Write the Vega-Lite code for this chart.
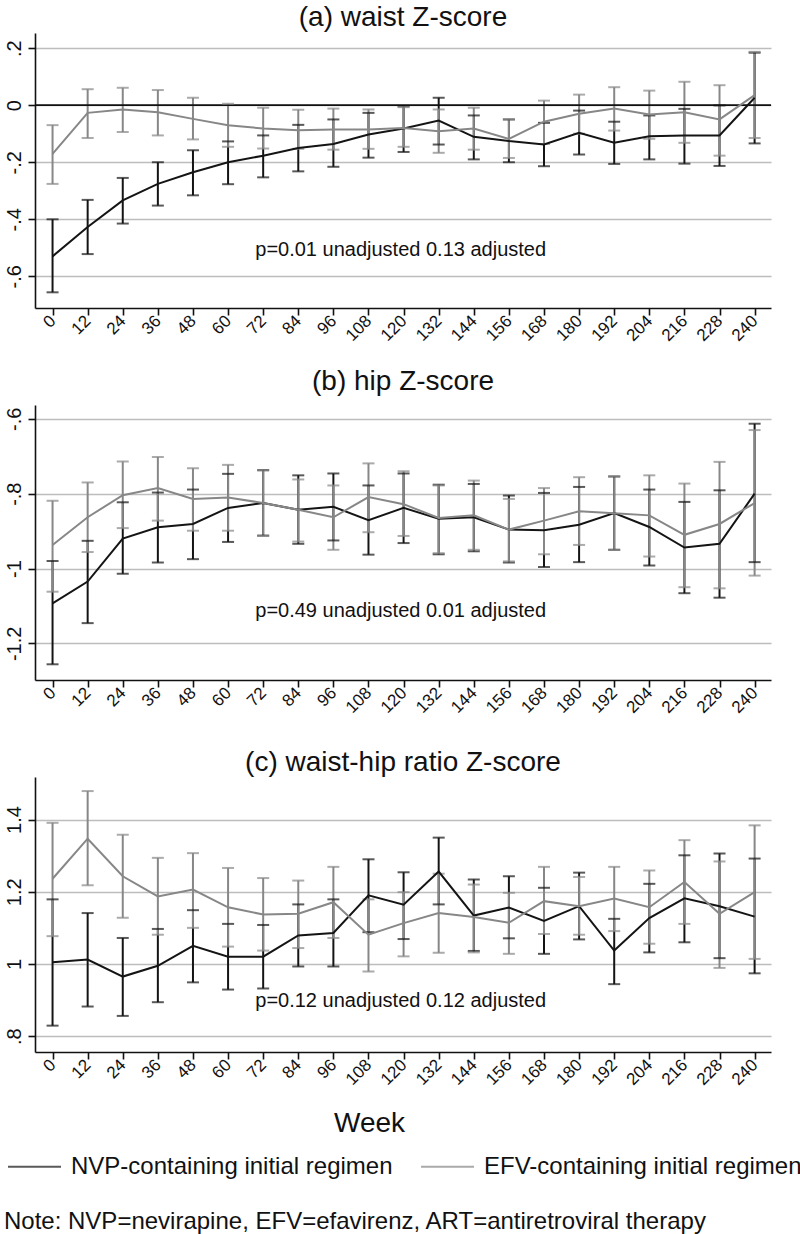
{
  "$schema": "https://vega.github.io/schema/vega-lite/v6.json",
  "padding": {"left": 3, "top": 4, "right": 0, "bottom": 0},
  "background": "white",
  "config": {
    "font": "Liberation Sans",
    "view": {"stroke": null},
    "title": {"fontSize": 28, "fontWeight": "normal", "color": "#111111", "anchor": "middle", "baseline": "alphabetic"},
    "axis": {"labelColor": "#111111", "domainColor": "#111111", "tickColor": "#111111", "domainWidth": 1.6, "tickWidth": 1.6, "labelFont": "Liberation Sans", "labelOverlap": false}
  },
  "title": {"text": "Note: NVP=nevirapine, EFV=efavirenz, ART=antiretroviral therapy", "orient": "bottom", "anchor": "start", "fontSize": 24, "offset": 50, "baseline": "alphabetic"},
  "datasets": {
    "waist": [
      {"week": 0, "group": "NVP", "est": -0.53, "lo": -0.656, "hi": -0.4},
      {"week": 12, "group": "NVP", "est": -0.427, "lo": -0.522, "hi": -0.332},
      {"week": 24, "group": "NVP", "est": -0.334, "lo": -0.415, "hi": -0.255},
      {"week": 36, "group": "NVP", "est": -0.276, "lo": -0.352, "hi": -0.2},
      {"week": 48, "group": "NVP", "est": -0.235, "lo": -0.316, "hi": -0.158},
      {"week": 60, "group": "NVP", "est": -0.2, "lo": -0.277, "hi": -0.127},
      {"week": 72, "group": "NVP", "est": -0.177, "lo": -0.253, "hi": -0.106},
      {"week": 84, "group": "NVP", "est": -0.15, "lo": -0.232, "hi": -0.069},
      {"week": 96, "group": "NVP", "est": -0.136, "lo": -0.216, "hi": -0.05},
      {"week": 108, "group": "NVP", "est": -0.103, "lo": -0.184, "hi": -0.027},
      {"week": 120, "group": "NVP", "est": -0.082, "lo": -0.164, "hi": -0.004},
      {"week": 132, "group": "NVP", "est": -0.054, "lo": -0.138, "hi": 0.026},
      {"week": 144, "group": "NVP", "est": -0.111, "lo": -0.19, "hi": -0.036},
      {"week": 156, "group": "NVP", "est": -0.126, "lo": -0.2, "hi": -0.05},
      {"week": 168, "group": "NVP", "est": -0.138, "lo": -0.214, "hi": -0.062},
      {"week": 180, "group": "NVP", "est": -0.097, "lo": -0.173, "hi": -0.019},
      {"week": 192, "group": "NVP", "est": -0.132, "lo": -0.206, "hi": -0.058},
      {"week": 204, "group": "NVP", "est": -0.109, "lo": -0.19, "hi": -0.036},
      {"week": 216, "group": "NVP", "est": -0.106, "lo": -0.205, "hi": -0.013},
      {"week": 228, "group": "NVP", "est": -0.106, "lo": -0.213, "hi": -0.001},
      {"week": 240, "group": "NVP", "est": 0.026, "lo": -0.134, "hi": 0.184},
      {"week": 0, "group": "EFV", "est": -0.171, "lo": -0.276, "hi": -0.07},
      {"week": 12, "group": "EFV", "est": -0.027, "lo": -0.115, "hi": 0.056},
      {"week": 24, "group": "EFV", "est": -0.015, "lo": -0.094, "hi": 0.061},
      {"week": 36, "group": "EFV", "est": -0.025, "lo": -0.106, "hi": 0.053},
      {"week": 48, "group": "EFV", "est": -0.048, "lo": -0.12, "hi": 0.026},
      {"week": 60, "group": "EFV", "est": -0.07, "lo": -0.146, "hi": 0.005},
      {"week": 72, "group": "EFV", "est": -0.082, "lo": -0.152, "hi": -0.009},
      {"week": 84, "group": "EFV", "est": -0.088, "lo": -0.153, "hi": -0.016},
      {"week": 96, "group": "EFV", "est": -0.085, "lo": -0.156, "hi": -0.012},
      {"week": 108, "group": "EFV", "est": -0.085, "lo": -0.153, "hi": -0.015},
      {"week": 120, "group": "EFV", "est": -0.08, "lo": -0.146, "hi": -0.007},
      {"week": 132, "group": "EFV", "est": -0.091, "lo": -0.167, "hi": -0.015},
      {"week": 144, "group": "EFV", "est": -0.082, "lo": -0.156, "hi": -0.009},
      {"week": 156, "group": "EFV", "est": -0.118, "lo": -0.185, "hi": -0.05},
      {"week": 168, "group": "EFV", "est": -0.058, "lo": -0.136, "hi": 0.016},
      {"week": 180, "group": "EFV", "est": -0.03, "lo": -0.1, "hi": 0.037},
      {"week": 192, "group": "EFV", "est": -0.012, "lo": -0.089, "hi": 0.063},
      {"week": 204, "group": "EFV", "est": -0.033, "lo": -0.118, "hi": 0.051},
      {"week": 216, "group": "EFV", "est": -0.025, "lo": -0.132, "hi": 0.082},
      {"week": 228, "group": "EFV", "est": -0.05, "lo": -0.177, "hi": 0.07},
      {"week": 240, "group": "EFV", "est": 0.035, "lo": -0.115, "hi": 0.187}
    ],
    "hip": [
      {"week": 0, "group": "NVP", "est": -1.093, "lo": -1.256, "hi": -0.98},
      {"week": 12, "group": "NVP", "est": -1.035, "lo": -1.146, "hi": -0.926},
      {"week": 24, "group": "NVP", "est": -0.92, "lo": -1.014, "hi": -0.823},
      {"week": 36, "group": "NVP", "est": -0.89, "lo": -0.984, "hi": -0.797},
      {"week": 48, "group": "NVP", "est": -0.881, "lo": -0.975, "hi": -0.789},
      {"week": 60, "group": "NVP", "est": -0.838, "lo": -0.929, "hi": -0.747},
      {"week": 72, "group": "NVP", "est": -0.825, "lo": -0.912, "hi": -0.737},
      {"week": 84, "group": "NVP", "est": -0.843, "lo": -0.934, "hi": -0.751},
      {"week": 96, "group": "NVP", "est": -0.835, "lo": -0.925, "hi": -0.746},
      {"week": 108, "group": "NVP", "est": -0.871, "lo": -0.963, "hi": -0.778},
      {"week": 120, "group": "NVP", "est": -0.838, "lo": -0.932, "hi": -0.746},
      {"week": 132, "group": "NVP", "est": -0.867, "lo": -0.962, "hi": -0.776},
      {"week": 144, "group": "NVP", "est": -0.863, "lo": -0.954, "hi": -0.774},
      {"week": 156, "group": "NVP", "est": -0.896, "lo": -0.984, "hi": -0.805},
      {"week": 168, "group": "NVP", "est": -0.898, "lo": -0.996, "hi": -0.798},
      {"week": 180, "group": "NVP", "est": -0.883, "lo": -0.983, "hi": -0.782},
      {"week": 192, "group": "NVP", "est": -0.852, "lo": -0.95, "hi": -0.754},
      {"week": 204, "group": "NVP", "est": -0.889, "lo": -0.992, "hi": -0.789},
      {"week": 216, "group": "NVP", "est": -0.944, "lo": -1.066, "hi": -0.822},
      {"week": 228, "group": "NVP", "est": -0.934, "lo": -1.078, "hi": -0.791},
      {"week": 240, "group": "NVP", "est": -0.8, "lo": -0.983, "hi": -0.613},
      {"week": 0, "group": "EFV", "est": -0.937, "lo": -1.062, "hi": -0.819},
      {"week": 12, "group": "EFV", "est": -0.863, "lo": -0.956, "hi": -0.77},
      {"week": 24, "group": "EFV", "est": -0.804, "lo": -0.892, "hi": -0.714},
      {"week": 36, "group": "EFV", "est": -0.785, "lo": -0.872, "hi": -0.702},
      {"week": 48, "group": "EFV", "est": -0.814, "lo": -0.899, "hi": -0.732},
      {"week": 60, "group": "EFV", "est": -0.81, "lo": -0.899, "hi": -0.723},
      {"week": 72, "group": "EFV", "est": -0.825, "lo": -0.913, "hi": -0.738},
      {"week": 84, "group": "EFV", "est": -0.843, "lo": -0.928, "hi": -0.762},
      {"week": 96, "group": "EFV", "est": -0.863, "lo": -0.95, "hi": -0.778},
      {"week": 108, "group": "EFV", "est": -0.809, "lo": -0.903, "hi": -0.719},
      {"week": 120, "group": "EFV", "est": -0.828, "lo": -0.913, "hi": -0.74},
      {"week": 132, "group": "EFV", "est": -0.865, "lo": -0.959, "hi": -0.778},
      {"week": 144, "group": "EFV", "est": -0.858, "lo": -0.95, "hi": -0.765},
      {"week": 156, "group": "EFV", "est": -0.896, "lo": -0.981, "hi": -0.814},
      {"week": 168, "group": "EFV", "est": -0.872, "lo": -0.962, "hi": -0.785},
      {"week": 180, "group": "EFV", "est": -0.847, "lo": -0.937, "hi": -0.756},
      {"week": 192, "group": "EFV", "est": -0.852, "lo": -0.95, "hi": -0.754},
      {"week": 204, "group": "EFV", "est": -0.858, "lo": -0.968, "hi": -0.751},
      {"week": 216, "group": "EFV", "est": -0.91, "lo": -1.05, "hi": -0.773},
      {"week": 228, "group": "EFV", "est": -0.881, "lo": -1.053, "hi": -0.715},
      {"week": 240, "group": "EFV", "est": -0.825, "lo": -1.019, "hi": -0.63}
    ],
    "whr": [
      {"week": 0, "group": "NVP", "est": 1.005, "lo": 0.829, "hi": 1.179},
      {"week": 12, "group": "NVP", "est": 1.012, "lo": 0.882, "hi": 1.141},
      {"week": 24, "group": "NVP", "est": 0.965, "lo": 0.856, "hi": 1.072},
      {"week": 36, "group": "NVP", "est": 0.995, "lo": 0.894, "hi": 1.097},
      {"week": 48, "group": "NVP", "est": 1.05, "lo": 0.949, "hi": 1.149},
      {"week": 60, "group": "NVP", "est": 1.02, "lo": 0.929, "hi": 1.111},
      {"week": 72, "group": "NVP", "est": 1.02, "lo": 0.932, "hi": 1.108},
      {"week": 84, "group": "NVP", "est": 1.079, "lo": 0.993, "hi": 1.165},
      {"week": 96, "group": "NVP", "est": 1.086, "lo": 0.993, "hi": 1.179},
      {"week": 108, "group": "NVP", "est": 1.19, "lo": 1.088, "hi": 1.29},
      {"week": 120, "group": "NVP", "est": 1.164, "lo": 1.069, "hi": 1.254},
      {"week": 132, "group": "NVP", "est": 1.256, "lo": 1.165, "hi": 1.35},
      {"week": 144, "group": "NVP", "est": 1.134, "lo": 1.036, "hi": 1.234},
      {"week": 156, "group": "NVP", "est": 1.156, "lo": 1.071, "hi": 1.243},
      {"week": 168, "group": "NVP", "est": 1.119, "lo": 1.028, "hi": 1.211},
      {"week": 180, "group": "NVP", "est": 1.16, "lo": 1.068, "hi": 1.253},
      {"week": 192, "group": "NVP", "est": 1.037, "lo": 0.944, "hi": 1.125},
      {"week": 204, "group": "NVP", "est": 1.127, "lo": 1.032, "hi": 1.222},
      {"week": 216, "group": "NVP", "est": 1.182, "lo": 1.06, "hi": 1.301},
      {"week": 228, "group": "NVP", "est": 1.16, "lo": 1.016, "hi": 1.306},
      {"week": 240, "group": "NVP", "est": 1.131, "lo": 0.974, "hi": 1.292},
      {"week": 0, "group": "EFV", "est": 1.236, "lo": 1.077, "hi": 1.391},
      {"week": 12, "group": "EFV", "est": 1.347, "lo": 1.218, "hi": 1.479},
      {"week": 24, "group": "EFV", "est": 1.243, "lo": 1.128, "hi": 1.358},
      {"week": 36, "group": "EFV", "est": 1.187, "lo": 1.081, "hi": 1.294},
      {"week": 48, "group": "EFV", "est": 1.206, "lo": 1.1, "hi": 1.307},
      {"week": 60, "group": "EFV", "est": 1.157, "lo": 1.048, "hi": 1.266},
      {"week": 72, "group": "EFV", "est": 1.137, "lo": 1.037, "hi": 1.238},
      {"week": 84, "group": "EFV", "est": 1.139, "lo": 1.044, "hi": 1.231},
      {"week": 96, "group": "EFV", "est": 1.171, "lo": 1.072, "hi": 1.269},
      {"week": 108, "group": "EFV", "est": 1.081, "lo": 0.979, "hi": 1.179},
      {"week": 120, "group": "EFV", "est": 1.113, "lo": 1.021, "hi": 1.199},
      {"week": 132, "group": "EFV", "est": 1.141, "lo": 1.031, "hi": 1.25},
      {"week": 144, "group": "EFV", "est": 1.13, "lo": 1.032, "hi": 1.22},
      {"week": 156, "group": "EFV", "est": 1.114, "lo": 1.028, "hi": 1.197},
      {"week": 168, "group": "EFV", "est": 1.174, "lo": 1.083, "hi": 1.269},
      {"week": 180, "group": "EFV", "est": 1.16, "lo": 1.081, "hi": 1.241},
      {"week": 192, "group": "EFV", "est": 1.181, "lo": 1.091, "hi": 1.269},
      {"week": 204, "group": "EFV", "est": 1.157, "lo": 1.056, "hi": 1.259},
      {"week": 216, "group": "EFV", "est": 1.227, "lo": 1.111, "hi": 1.343},
      {"week": 228, "group": "EFV", "est": 1.139, "lo": 0.989, "hi": 1.284},
      {"week": 240, "group": "EFV", "est": 1.199, "lo": 1.014, "hi": 1.384}
    ]
  },
  "resolve": {"scale": {"color": "shared"}, "legend": {"color": "shared"}},
  "bounds": "flush",
  "spacing": 97,
  "vconcat": [
    {
      "width": 736, "height": 275,
      "title": {"text": "(a) waist Z-score", "offset": 1},
      "data": {"name": "waist"},
      "layer": [
        {
          "mark": {"type": "rule", "strokeWidth": 2},
          "encoding": {
            "x": {"field": "week", "type": "quantitative", "scale": {"domain": [-6, 245.6], "nice": false, "zero": false},
                  "axis": {"title": null, "values": [0,12,24,36,48,60,72,84,96,108,120,132,144,156,168,180,192,204,216,228,240], "tickCount": 40, "labelOverlap": false, "labelAngle": -45, "labelAlign": "right", "labelBaseline": "middle", "labelFontSize": 17, "tickSize": 7, "labelPadding": 3, "grid": false}},
            "y": {"field": "lo", "type": "quantitative", "title": null, "scale": {"domain": [-0.711, 0.253], "nice": false, "zero": false},
                  "axis": {"title": null, "values": [-0.6,-0.4,-0.2,0,0.2], "labelExpr": "replace(toString(datum.value), '0.', '.')", "labelAngle": -90, "labelAlign": "center", "labelBaseline": "bottom", "labelFontSize": 20, "tickSize": 7, "labelPadding": 4, "grid": true, "gridColor": "#bdbdbd", "gridWidth": 1.6}},
            "y2": {"field": "hi"},
            "color": {"field": "group", "type": "nominal", "scale": {"domain": ["NVP", "EFV"], "range": ["#141414", "#878787"]},
                      "legend": {"orient": "none", "legendX": -28, "legendY": 1106, "direction": "horizontal", "title": null, "symbolType": "stroke", "symbolSize": 2809, "symbolStrokeWidth": 2, "labelFontSize": 24, "labelLimit": 0, "labelOffset": 9, "columnPadding": 24, "padding": 0, "labelColor": "#111111", "labelExpr": "datum.label == 'NVP' ? 'NVP-containing initial regimen' : 'EFV-containing initial regimen'"}}
          }
        },
        {"data": {"values": [{"ref": 0}]}, "mark": {"type": "rule", "color": "#111111", "strokeWidth": 1.6}, "encoding": {"y": {"field": "ref", "type": "quantitative"}}},
        {
          "mark": {"type": "tick", "orient": "horizontal", "size": 12, "thickness": 2},
          "encoding": {"x": {"field": "week", "type": "quantitative"}, "y": {"field": "lo", "type": "quantitative"}, "color": {"field": "group", "type": "nominal"}}
        },
        {
          "mark": {"type": "tick", "orient": "horizontal", "size": 12, "thickness": 2},
          "encoding": {"x": {"field": "week", "type": "quantitative"}, "y": {"field": "hi", "type": "quantitative"}, "color": {"field": "group", "type": "nominal"}}
        },
        {
          "mark": {"type": "line", "strokeWidth": 2},
          "encoding": {"x": {"field": "week", "type": "quantitative"}, "y": {"field": "est", "type": "quantitative"}, "color": {"field": "group", "type": "nominal"}}
        },
        {
          "data": {"values": [{"label": "p=0.01 unadjusted 0.13 adjusted"}]},
          "mark": {"type": "text", "fontSize": 20, "align": "center", "baseline": "alphabetic", "color": "#111111"},
          "encoding": {"x": {"datum": 119}, "y": {"datum": -0.53}, "text": {"field": "label"}}
        }
      ]
    },
    {
      "width": 736, "height": 275,
      "title": {"text": "(b) hip Z-score", "offset": 9},
      "data": {"name": "hip"},
      "layer": [
        {
          "mark": {"type": "rule", "strokeWidth": 2},
          "encoding": {
            "x": {"field": "week", "type": "quantitative", "scale": {"domain": [-6, 245.6], "nice": false, "zero": false},
                  "axis": {"title": null, "values": [0,12,24,36,48,60,72,84,96,108,120,132,144,156,168,180,192,204,216,228,240], "tickCount": 40, "labelOverlap": false, "labelAngle": -45, "labelAlign": "right", "labelBaseline": "middle", "labelFontSize": 17, "tickSize": 7, "labelPadding": 3, "grid": false}},
            "y": {"field": "lo", "type": "quantitative", "title": null, "scale": {"domain": [-1.298, -0.563], "nice": false, "zero": false},
                  "axis": {"title": null, "values": [-1.2,-1,-0.8,-0.6], "labelExpr": "replace(toString(datum.value), '0.', '.')", "labelAngle": -90, "labelAlign": "center", "labelBaseline": "bottom", "labelFontSize": 20, "tickSize": 7, "labelPadding": 4, "grid": true, "gridColor": "#bdbdbd", "gridWidth": 1.6}},
            "y2": {"field": "hi"},
            "color": {"field": "group", "type": "nominal"}
          }
        },
        {
          "mark": {"type": "tick", "orient": "horizontal", "size": 12, "thickness": 2},
          "encoding": {"x": {"field": "week", "type": "quantitative"}, "y": {"field": "lo", "type": "quantitative"}, "color": {"field": "group", "type": "nominal"}}
        },
        {
          "mark": {"type": "tick", "orient": "horizontal", "size": 12, "thickness": 2},
          "encoding": {"x": {"field": "week", "type": "quantitative"}, "y": {"field": "hi", "type": "quantitative"}, "color": {"field": "group", "type": "nominal"}}
        },
        {
          "mark": {"type": "line", "strokeWidth": 2},
          "encoding": {"x": {"field": "week", "type": "quantitative"}, "y": {"field": "est", "type": "quantitative"}, "color": {"field": "group", "type": "nominal"}}
        },
        {
          "data": {"values": [{"label": "p=0.49 unadjusted 0.01 adjusted"}]},
          "mark": {"type": "text", "fontSize": 20, "align": "center", "baseline": "alphabetic", "color": "#111111"},
          "encoding": {"x": {"datum": 119}, "y": {"datum": -1.129}, "text": {"field": "label"}}
        }
      ]
    },
    {
      "width": 736, "height": 275,
      "title": {"text": "(c) waist-hip ratio Z-score", "offset": 0},
      "data": {"name": "whr"},
      "layer": [
        {
          "mark": {"type": "rule", "strokeWidth": 2},
          "encoding": {
            "x": {"field": "week", "type": "quantitative", "scale": {"domain": [-6, 245.6], "nice": false, "zero": false},
                  "axis": {"title": "Week", "titleFontSize": 28, "titleFontWeight": "normal", "titleColor": "#111111", "titleX": 334, "titleY": 79, "titleAlign": "center", "titleBaseline": "alphabetic", "values": [0,12,24,36,48,60,72,84,96,108,120,132,144,156,168,180,192,204,216,228,240], "tickCount": 40, "labelOverlap": false, "labelAngle": -45, "labelAlign": "right", "labelBaseline": "middle", "labelFontSize": 17, "tickSize": 7, "labelPadding": 3, "grid": false}},
            "y": {"field": "lo", "type": "quantitative", "title": null, "scale": {"domain": [0.756, 1.518], "nice": false, "zero": false},
                  "axis": {"title": null, "values": [0.8,1,1.2,1.4], "labelExpr": "replace(toString(datum.value), '0.', '.')", "labelAngle": -90, "labelAlign": "center", "labelBaseline": "bottom", "labelFontSize": 20, "tickSize": 7, "labelPadding": 4, "grid": true, "gridColor": "#bdbdbd", "gridWidth": 1.6}},
            "y2": {"field": "hi"},
            "color": {"field": "group", "type": "nominal"}
          }
        },
        {
          "mark": {"type": "tick", "orient": "horizontal", "size": 12, "thickness": 2},
          "encoding": {"x": {"field": "week", "type": "quantitative"}, "y": {"field": "lo", "type": "quantitative"}, "color": {"field": "group", "type": "nominal"}}
        },
        {
          "mark": {"type": "tick", "orient": "horizontal", "size": 12, "thickness": 2},
          "encoding": {"x": {"field": "week", "type": "quantitative"}, "y": {"field": "hi", "type": "quantitative"}, "color": {"field": "group", "type": "nominal"}}
        },
        {
          "mark": {"type": "line", "strokeWidth": 2},
          "encoding": {"x": {"field": "week", "type": "quantitative"}, "y": {"field": "est", "type": "quantitative"}, "color": {"field": "group", "type": "nominal"}}
        },
        {
          "data": {"values": [{"label": "p=0.12 unadjusted 0.12 adjusted"}]},
          "mark": {"type": "text", "fontSize": 20, "align": "center", "baseline": "alphabetic", "color": "#111111"},
          "encoding": {"x": {"datum": 119}, "y": {"datum": 0.88}, "text": {"field": "label"}}
        }
      ]
    }
  ]
}
